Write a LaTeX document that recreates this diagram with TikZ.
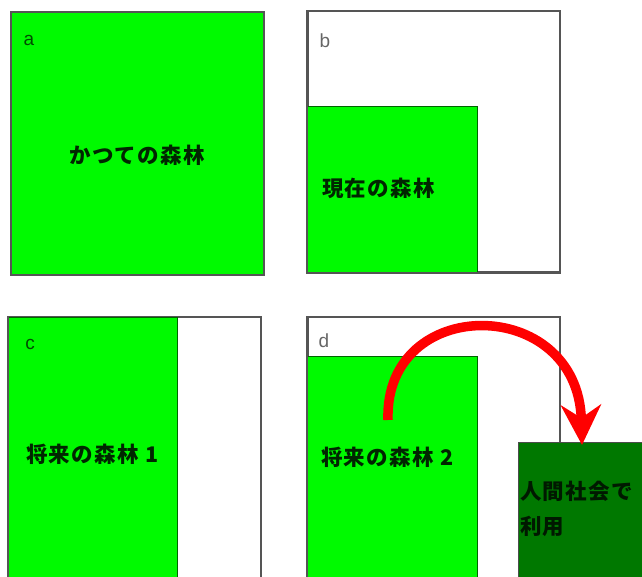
\documentclass[tikz,border=0pt]{standalone}
\usepackage{fontspec}
\setmainfont{Liberation Sans}
\newfontfamily\jp[LetterSpace=6]{Noto Sans CJK JP}
\usetikzlibrary{arrows.meta}
\definecolor{lgreen}{RGB}{0,250,0}
\definecolor{dgreen}{RGB}{0,120,0}
\definecolor{bgreen}{RGB}{0,100,0}
\definecolor{frame}{RGB}{85,85,85}
\tikzset{
  outerbox/.style={draw=frame, line width=1.5pt, anchor=south west, inner sep=0pt},
  forest/.style={draw=bgreen, line width=1pt, fill=lgreen, anchor=south west, inner sep=0pt},
  usebox/.style={draw=black!70, line width=1pt, fill=dgreen, anchor=south west, inner sep=0pt},
  letter/.style={font=\fontsize{19}{19}\selectfont, text=black!60, anchor=center, inner sep=0pt},
  jptext/.style={font=\jp\bfseries\fontsize{21.5}{35}\selectfont, text=black!85!green, inner sep=0pt},
  bigarrow/.style={red, line width=9.5pt, -{Stealth[length=40pt,width=40pt,inset=13pt]}}
}
\begin{document}
\begin{tikzpicture}[x=1pt,y=1pt]
\useasboundingbox (0,0) rectangle (642,577);
\clip (0,0) rectangle (642,577);
% panel a
\node[forest, draw=frame, line width=1.5pt, minimum width=253pt, minimum height=263pt] (pa) at (10,301) {};
\node[letter, text=black!70!green] (la) at (29,537) {a};
\node[jptext, anchor=center] (ta) at (137,422) {かつての森林};
% panel b
\node[outerbox, minimum width=252pt, minimum height=261pt] (pb) at (307,304) {};
\node[forest, minimum width=170pt, minimum height=166pt] (gb) at (307,304) {};
\draw[frame, line width=1.5pt] (pb.south west) rectangle (pb.north east);
\node[letter] (lb) at (325,536) {b};
\node[jptext, anchor=west] (tb) at (322,389) {現在の森林};
% panel c
\node[outerbox, minimum width=252pt, minimum height=280pt] (pc) at (8,-21) {};
\node[forest, minimum width=169pt, minimum height=280pt] (gc) at (8,-21) {};
\draw[frame, line width=1.5pt] (pc.south west) rectangle (pc.north east);
\node[letter, text=black!70!green] (lc) at (30,233) {c};
\node[jptext, anchor=west] (tc) at (26,123) {将来の森林 1};
% panel d
\node[outerbox, minimum width=252pt, minimum height=280pt] (pd) at (307,-21) {};
\node[forest, minimum width=170pt, minimum height=241pt] (gd) at (307,-21) {};
\draw[frame, line width=1.5pt] (pd.south west) rectangle (pd.north east);
\node[letter] (ld) at (324,236) {d};
\node[jptext, anchor=west] (td) at (321,120) {将来の森林 2};
% used by society
\node[usebox, minimum width=150pt, minimum height=160pt] (use) at (518,-26) {};
\node[jptext, text=black!90!green, anchor=north west, align=left] (tu) at (520,96) {人間社会で\\利用};
% arrow
\coordinate (as) at (388,157);
\coordinate (ae) at (582,132);
\draw[bigarrow] (as) .. controls (384,283) and (578,283) .. (ae);
\end{tikzpicture}
\end{document}
